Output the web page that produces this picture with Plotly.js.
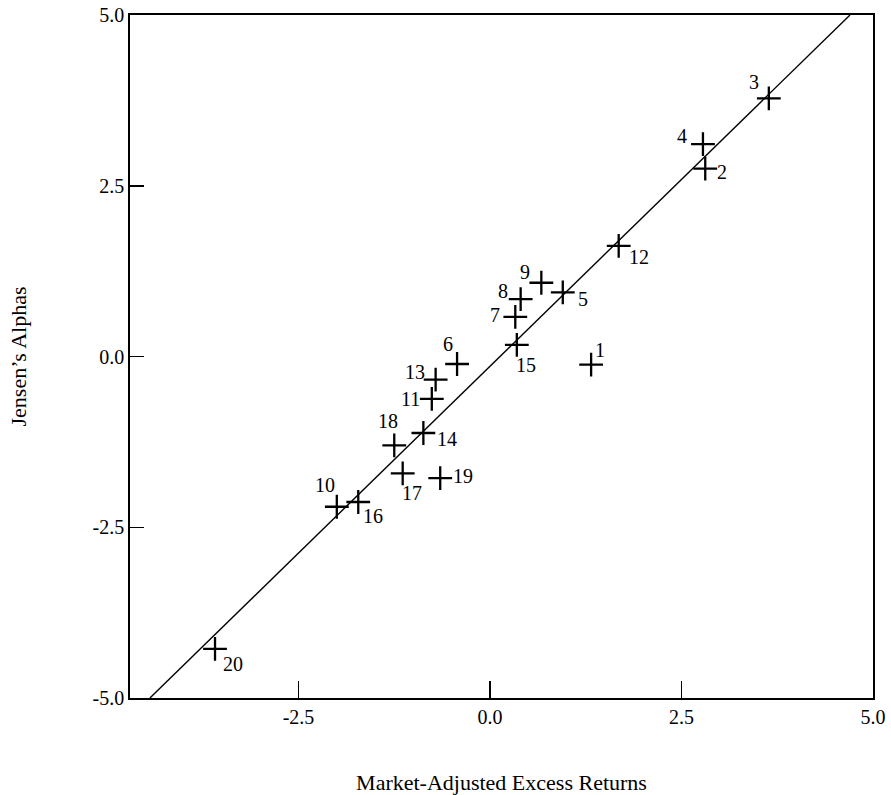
<!DOCTYPE html>
<html>
<head>
<meta charset="utf-8">
<script src="https://cdn.plot.ly/plotly-3.0.1.min.js"></script>
<style>html,body{margin:0;padding:0;background:#fff;}#chart{width:891px;height:795px;}</style>
</head>
<body>
<div id="chart"></div>
<script>
// Fund numbers
const fundLabels = ["1","2","3","4","5","6","7","8","9","10","11","12","13","14","15","16","17","18","19","20"];
// Market-adjusted excess returns (x)
const excessReturns = [1.32, 2.81, 3.64, 2.78, 0.95, -0.43, 0.33, 0.40, 0.67, -2.00, -0.76, 1.68, -0.71, -0.87, 0.35, -1.72, -1.14, -1.25, -0.65, -3.59];
// Jensen's alphas (y)
const jensenAlphas = [-0.12, 2.75, 3.78, 3.11, 0.94, -0.11, 0.58, 0.84, 1.08, -2.20, -0.62, 1.62, -0.34, -1.12, 0.17, -2.13, -1.71, -1.30, -1.78, -4.28];
// Fitted line endpoints
const lineX = [-4.44, 4.70];
const lineY = [-5.0, 5.0];
// Tick values / labels
const xTickVals = [-2.5, 0, 2.5, 5];
const xTickText = ["-2.5", "0.0", "2.5", "5.0"];
const yTickVals = [-5, -2.5, 0, 2.5, 5];
const yTickText = ["-5.0", "-2.5", "0.0", "2.5", "5.0"];

// label placement offsets in pixels (style only)
const labelDx = [9, 17, -15, -21, 20, -9, -20, -18, -16, -12, -21, 20, -21, 24, 9, 15, 9, -6, 23, 18];
const labelDy = [-15, 3, -16, -8, 7, -20, -2, -8, -11, -22, 0, 11, -8, 6, 20, 14, 20, -24, -2, 15];

const font = "Liberation Serif, DejaVu Serif, serif";

const traces = [
  {
    x: lineX, y: lineY, mode: "lines", type: "scatter",
    line: {color: "#000", width: 1.4}, hoverinfo: "skip", showlegend: false
  },
  {
    x: excessReturns, y: jensenAlphas, mode: "markers", type: "scatter",
    marker: {symbol: "cross-thin", size: 17, color: "#000", line: {color: "#000", width: 2.3}},
    showlegend: false
  }
];

const annotations = fundLabels.map((t, i) => ({
  x: excessReturns[i], y: jensenAlphas[i], xref: "x", yref: "y",
  text: t, showarrow: false,
  xshift: labelDx[i], yshift: -labelDy[i],
  xanchor: "center", yanchor: "middle",
  font: {family: font, size: 20, color: "#000"}
}));

const layout = {
  width: 891, height: 795,
  margin: {l: 130, r: 18, t: 15, b: 97},
  paper_bgcolor: "#fff", plot_bgcolor: "#fff",
  font: {family: font, size: 20, color: "#000"},
  showlegend: false,
  annotations: annotations,
  xaxis: {
    range: [-4.7, 5.0], tickvals: xTickVals, ticktext: xTickText,
    ticks: "inside", ticklen: 17, tickwidth: 1.5, tickcolor: "#000",
    showline: true, linecolor: "#000", linewidth: 1.8, mirror: true,
    showgrid: false, zeroline: false,
    tickfont: {family: font, size: 20},
    title: {text: "Market-Adjusted Excess Returns", font: {family: font, size: 22}, standoff: 48},
    automargin: false
  },
  yaxis: {
    range: [-5.0, 5.0], tickvals: yTickVals, ticktext: yTickText,
    ticks: "inside", ticklen: 14, tickwidth: 1.5, tickcolor: "#000",
    showline: true, linecolor: "#000", linewidth: 1.8, mirror: true,
    showgrid: false, zeroline: false,
    tickfont: {family: font, size: 20},
    title: {text: "Jensen\u2019s Alphas", font: {family: font, size: 22}, standoff: 60},
    automargin: false
  }
};

Plotly.newPlot("chart", traces, layout, {displayModeBar: false, staticPlot: true});
</script>
</body>
</html>
